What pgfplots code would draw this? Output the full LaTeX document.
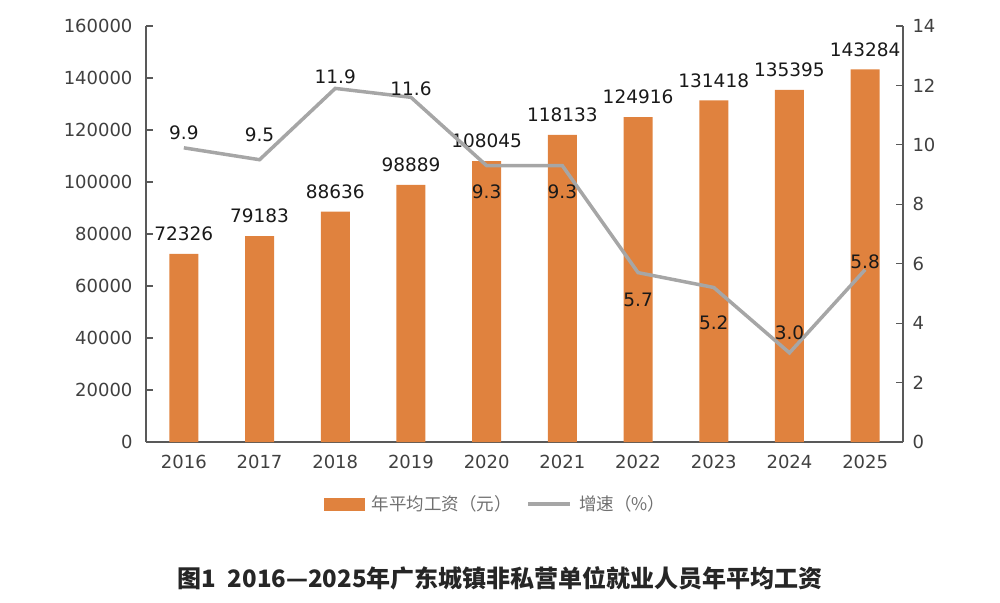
\documentclass[border=0pt]{standalone}
\usepackage{fontspec}
\setmainfont{DejaVu Sans}
\newfontfamily\cjk{Noto Sans CJK SC}
\usepackage{pgfplots}
\pgfplotsset{compat=1.18}
\usepackage{pgfplotstable}

\definecolor{barorange}{HTML}{E0823E}
\definecolor{rategray}{HTML}{A6A6A6}
\definecolor{axisgray}{HTML}{595959}
\definecolor{ticktext}{HTML}{404040}
\definecolor{legendtext}{HTML}{707070}

% average annual wage (yuan)
\pgfplotstableread{
idx wage
0 72326
1 79183
2 88636
3 98889
4 108045
5 118133
6 124916
7 131418
8 135395
9 143284
}\wagetable

% growth rate (%), with label offset in pt
\pgfplotstableread{
idx rate dy
0 9.9 15
1 9.5 25
2 11.9 12
3 11.6 9
4 9.3 -26
5 9.3 -26
6 5.7 -27
7 5.2 -35
8 3.0 20
9 5.8 8
}\ratetable

\pgfplotsset{
  common/.style={
    scale only axis, width=757pt, height=416pt,
    xmin=-0.5, xmax=9.5, at={(0,0)}, anchor=south west,
    axis line style={axisgray, line width=1.2pt},
    tick style={axisgray, line width=1.2pt},
    major tick length=7pt, tick align=inside,
    tick label style={font=\fontsize{18}{21}\selectfont, text=ticktext},
    /pgf/number format/assume math mode=true,
    scaled ticks=false,
    /pgf/number format/1000 sep={},
    clip=false,
  }
}

\begin{document}
\begin{tikzpicture}
\useasboundingbox (-146pt,-160pt) rectangle (854pt,442pt);

\begin{axis}[common,
  ymin=0, ymax=160000, ytick={0,20000,...,160000},
  axis y line*=left, axis x line*=bottom,
  xtick={0,...,9},
  xticklabels={2016,2017,2018,2019,2020,2021,2022,2023,2024,2025},
  xtick style={draw=none},
  xticklabel style={yshift=-10pt},
  yticklabel style={xshift=-10pt, /pgf/number format/fixed, /pgf/number format/precision=0},
  nodes near coords,
  nodes near coords style={font=\fontsize{18.5}{21}\selectfont, text=black!90,
    anchor=center, yshift=20pt,
    /pgf/number format/fixed, /pgf/number format/precision=0},
]
\addplot[ybar, bar width=29pt, bar shift=0pt, fill=barorange, draw=none]
  table[x=idx, y=wage]{\wagetable};
\end{axis}

\begin{axis}[common,
  ymin=0, ymax=14, ytick={0,2,...,14},
  axis y line*=right, axis x line=none,
  yticklabel style={xshift=6pt, /pgf/number format/fixed},
  legend columns=2,
  legend style={at={(0.462,-0.149)}, anchor=center, draw=none, fill=none,
    font=\cjk\fontsize{17.5}{20}\selectfont, text=legendtext,
    /tikz/every odd column/.append style={column sep=5pt},
    /tikz/every even column/.append style={column sep=13pt}},
]
\addlegendimage{legend image code/.code={\fill[barorange] (0pt,-6pt) rectangle (40pt,6pt);}}
\addlegendentry{年平均工资（元）}
\addplot[rategray, line width=3.5pt,
  legend image code/.code={\draw[rategray, line width=3.5pt] (0pt,0pt) -- (42pt,0pt);},
] table[x=idx, y=rate]{\ratetable};
\addlegendentry{增速（\%）}
% value labels of the growth rate
\addplot[draw=none, forget plot,
  nodes near coords,
  visualization depends on={\thisrow{dy} \as \dy},
  nodes near coords style={font=\fontsize{18.5}{21}\selectfont, text=black!90,
    anchor=center, yshift=\dy*1pt,
    /pgf/number format/fixed, /pgf/number format/fixed zerofill,
    /pgf/number format/precision=1},
] table[x=idx, y=rate]{\ratetable};
\end{axis}

\node[font=\cjk\bfseries\fontsize{24}{28}\selectfont, text=black!85]
  at (354pt,-136pt) {图1\hspace{0.5em}2016—2025年广东城镇非私营单位就业人员年平均工资};
\end{tikzpicture}
\end{document}
